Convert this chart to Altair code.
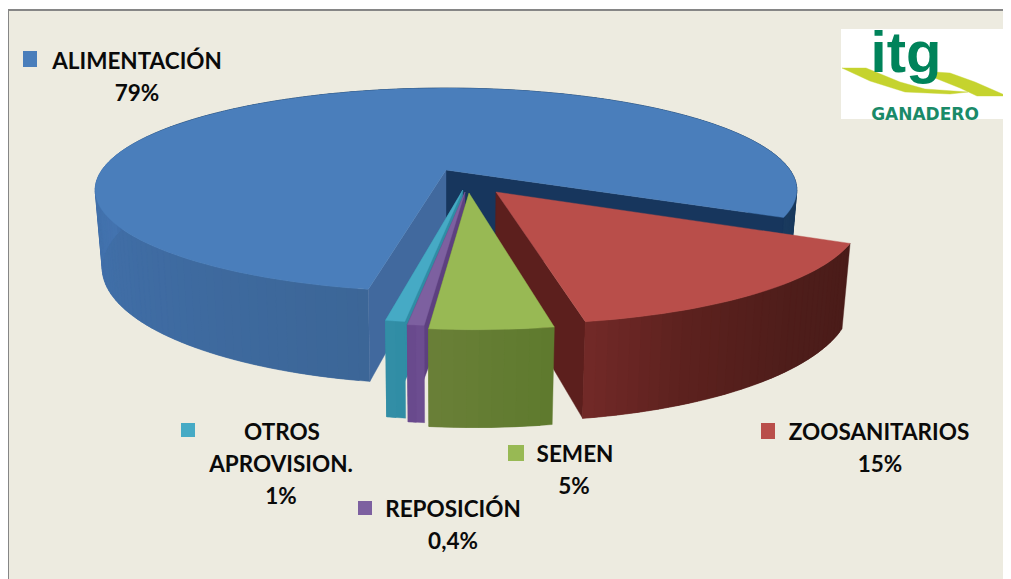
import math
import altair as alt

# ---- values ----
categories = ["ALIMENTACIÓN", "ZOOSANITARIOS", "SEMEN", "REPOSICIÓN", "OTROS APROVISION."]
drawn_shares = [79.4, 14.9, 4.4, 0.6, 0.7]
label_lines = [["ALIMENTACIÓN", "79%"], ["ZOOSANITARIOS", "15%"], ["SEMEN", "5%"],
               ["REPOSICIÓN", "0,4%"], ["OTROS", "APROVISION.", "1%"]]
top_colors = ["#4a7ebb", "#b94e4a", "#98b954", "#7d60a0", "#46aac5"]

# ---- layout (reference page pixels) ----
W, H = 995, 571
OX, OY = 8, 8
START_ANGLE = 190.5
CX, AY, A, B, K = 446, 170, 344, 98, 0.196
DEPTH, DEPTH_GROW, SHRINK = 75, 1.143, 0.98
explode = [(0, 0), (0.139, 0.2146), (0.064, 0.225), (0.053, 0.215), (0.047, 0.196)]
radius = [1.0, 0.988, 1.01, 1.0, 1.0]
rim_stops = [
    [(190, "#3c6697"), (230, "#3f6ca3"), (275, "#4373af"), (300, "#1a3a5e"), (480, "#1a3a5e")],
    [(116, "#4a1c19"), (135, "#4e1d1a"), (155, "#5c211e"), (172, "#772b29")],
    [(170, "#5f7a2e"), (186, "#6a8038")],
    [(185, "#6f4f92"), (188, "#65478a")],
    [(187, "#2f8da5"), (191, "#348ea6")],
]
cut_walls = [("#41699e", "#17365d"), ("#5c1f1d", None), ("#5f7a2e", None), ("#5d4080", None), ("#2f8da5", None)]
label_xy = [[(137, 69), (137, 101)], [(879, 440), (880, 472)], [(575, 462), (574, 494)],
            [(453, 517), (453, 549)], [(282, 440), (281, 472), (281, 504)]]
square_box = [(23, 51, 37, 67), (761, 423, 775, 439), (508, 445, 524, 461),
              (358, 501, 372, 515), (181, 423, 195, 437)]
LOGO_BOX = (841, 29, 1007, 119)
swoosh_a = [(842, 68), (866, 68), (900, 82), (925, 89), (968, 92), (950, 94), (905, 92), (870, 81)]
swoosh_b = [(935, 72), (950, 73), (975, 82), (1007, 96), (977, 96), (960, 88), (935, 78)]
PANEL = "#edebe0"


def hex2rgb(h):
    return [int(h[i:i + 2], 16) for i in (1, 3, 5)]


def mix(stops, ang):
    if ang <= stops[0][0]:
        return stops[0][1]
    for (a0, c0), (a1, c1) in zip(stops, stops[1:]):
        if ang <= a1:
            t = (ang - a0) / (a1 - a0)
            r = [round(p + (q - p) * t) for p, q in zip(hex2rgb(c0), hex2rgb(c1))]
            return "#%02x%02x%02x" % tuple(r)
    return stops[-1][1]


def top(u, v):
    s = 1 / (1 - K * v)
    return [CX + A * u * s - OX, AY + B * v * s - OY]


def bot(u, v):
    s = 1 / (1 - K * v)
    return [CX + A * u * s * SHRINK - OX, AY + DEPTH + B * v * s * DEPTH_GROW - OY]


def rim(i, ang):
    r = math.radians(ang)
    off = explode[i]
    return off[0] + radius[i] * math.sin(r), off[1] - radius[i] * math.cos(r)


def feature(ring, color):
    ring = list(ring) + [ring[0]]
    return {"type": "Feature", "geometry": {"type": "Polygon", "coordinates": [ring]},
            "properties": {"fill": color}}


def rim_quads(i, angles):
    # each quad reaches over its neighbour so that no seam shows
    out = []
    for j, x0 in enumerate(angles[:-1]):
        x1 = angles[min(j + 2, len(angles) - 1)]
        mid = angles[j + 1]
        pts = [rim(i, x0), rim(i, mid), rim(i, x1)]
        ring = [top(*p) for p in pts] + [bot(*p) for p in reversed(pts)]
        out.append(feature(ring, mix(rim_stops[i], x0)))
    return out


features = []
total = sum(drawn_shares)
ang = START_ANGLE
spans = []
for share in drawn_shares:
    spans.append((ang, ang + share * 360 / total))
    ang = spans[-1][1]
spans = [(a % 360 if i else a, (a % 360 if i else a) + (b - a)) for i, (a, b) in enumerate(spans)]

order = [0, 1, 4, 3, 2]
for i in order:
    a0, a1 = spans[i]
    off = explode[i]
    n = max(2, int((a1 - a0) / 1.5))
    angles = [a0 + (a1 - a0) * j / n for j in range(n + 1)]
    light, dark = cut_walls[i]
    if i == 0:
        p, q = rim(i, a0), rim(i, a1)
        features.extend(rim_quads(i, angles))
        features.append(feature([top(*off), top(*q), bot(*q), bot(*off)], dark))
        features.append(feature([top(*off), top(*p), bot(*p), bot(*off)], light))
    else:
        q = rim(i, a1)
        features.append(feature([top(*off), top(*q), bot(*q), bot(*off)], light))
        features.extend(rim_quads(i, angles))
    ring = [top(*off)] + [top(*rim(i, x)) for x in angles]
    features.append(feature(ring, top_colors[i]))

logo_features = [
    feature([[x - OX, y - OY] for x, y in swoosh_a], "#c5d32e"),
    feature([[x - OX, y - OY] for x, y in swoosh_b], "#c5d32e"),
]


def shapes(items):
    return alt.Chart(alt.Data(values=items)).mark_geoshape(strokeWidth=0.4).encode(
        fill=alt.Color("properties.fill:N", scale=None, legend=None),
        stroke=alt.Color("properties.fill:N", scale=None, legend=None),
    ).project(type="identity", scale=1, translate=[0, 0])


backdrop = alt.Chart(alt.Data(values=[{"k": 1}])).mark_rect(
    fill=PANEL, stroke="#868686", strokeWidth=2
).encode(x=alt.value(0), x2=alt.value(1100), y=alt.value(2), y2=alt.value(700))

squares = alt.Chart(alt.Data(values=[
    {"x": b[0] - OX, "y": b[1] - OY, "x2": b[2] - OX, "y2": b[3] - OY, "c": c}
    for b, c in zip(square_box, top_colors)
])).mark_rect().encode(
    x=alt.X("x:Q", scale=None), x2="x2:Q",
    y=alt.Y("y:Q", scale=None), y2="y2:Q",
    fill=alt.Color("c:N", scale=None, legend=None),
)

text_rows = []
for lines, xy in zip(label_lines, label_xy):
    for line, (x, y) in zip(lines, xy):
        text_rows.append({"t": line, "x": x - OX, "y": y - OY})
labels = alt.Chart(alt.Data(values=text_rows)).mark_text(
    font="Lato", fontWeight="bold", fontSize=22.5, color="#0a0a0a", align="center", baseline="alphabetic"
).encode(x=alt.X("x:Q", scale=None), y=alt.Y("y:Q", scale=None), text="t:N")

logo_bg = alt.Chart(alt.Data(values=[{
    "x": LOGO_BOX[0] - OX, "y": LOGO_BOX[1] - OY, "x2": LOGO_BOX[2] - OX, "y2": LOGO_BOX[3] - OY
}])).mark_rect(fill="white").encode(
    x=alt.X("x:Q", scale=None), x2="x2:Q", y=alt.Y("y:Q", scale=None), y2="y2:Q"
)
logo_mark = alt.Chart(alt.Data(values=[{"t": "itg", "x": 906 - OX, "y": 72 - OY}])).mark_text(
    font="Liberation Sans", fontWeight="bold", fontSize=58, color="#00835a",
    align="center", baseline="alphabetic"
).encode(x=alt.X("x:Q", scale=None), y=alt.Y("y:Q", scale=None), text="t:N")
logo_name = alt.Chart(alt.Data(values=[{"t": "GANADERO", "x": 925 - OX, "y": 119.5 - OY}])).mark_text(
    font="DejaVu Sans", fontWeight="bold", fontSize=17, color="#1a8a68",
    align="center", baseline="alphabetic"
).encode(x=alt.X("x:Q", scale=None), y=alt.Y("y:Q", scale=None), text="t:N")

chart = alt.layer(
    backdrop, shapes(features), squares, labels, logo_bg, shapes(logo_features),
    logo_mark, logo_name
).properties(
    width=W, height=H, padding=0, autosize=alt.AutoSizeParams(type="none"), background="white"
).configure_view(stroke=None)

chart.save("out.html", embed_options={"renderer": "svg", "actions": False})
